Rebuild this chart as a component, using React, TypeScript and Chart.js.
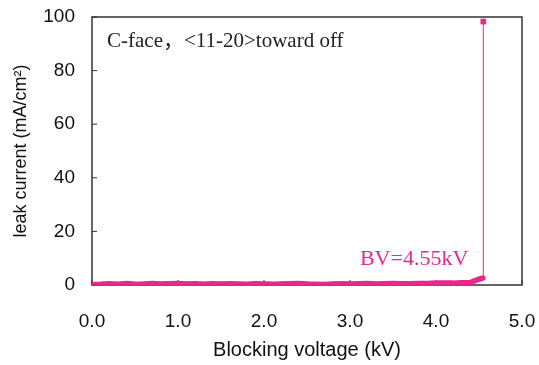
import React, { useEffect, useRef } from "react";
import { Chart, registerables } from "chart.js";

Chart.register(...registerables);

const voltage = [
  0.0, 0.1, 0.2, 0.3, 0.4, 0.5, 0.6, 0.7, 0.8, 0.9, 1.0, 1.1, 1.2, 1.3, 1.4, 1.5,
  1.6, 1.7, 1.8, 1.9, 2.0, 2.1, 2.2, 2.3, 2.4, 2.5, 2.6, 2.7, 2.8, 2.9, 3.0, 3.1,
  3.2, 3.3, 3.4, 3.5, 3.6, 3.7, 3.8, 3.9, 4.0, 4.1, 4.2, 4.3, 4.4, 4.45, 4.5, 4.55, 4.55,
];
const leakCurrent = [
  0.2, 0.3, 0.5, 0.3, 0.6, 0.3, 0.4, 0.6, 0.4, 0.5, 0.6, 0.4, 0.5, 0.3, 0.5, 0.4,
  0.5, 0.4, 0.3, 0.5, 0.4, 0.3, 0.4, 0.5, 0.6, 0.4, 0.3, 0.2, 0.4, 0.5, 0.4, 0.5,
  0.6, 0.4, 0.5, 0.6, 0.5, 0.5, 0.6, 0.6, 0.7, 0.7, 0.7, 0.8, 0.9, 1.6, 2.2, 2.6, 98.3,
];
const xTicks = [0, 1, 2, 3, 4, 5];
const yTicks = [0, 20, 40, 60, 80, 100];
const noteText = "C-face，<11-20>toward off";
const bvText = "BV=4.55kV";

const PINK = "#E8288C";

export default function App() {
  const ref = useRef<HTMLCanvasElement>(null);
  useEffect(() => {
    const ctx = ref.current!.getContext("2d")!;
    const framePlugin = {
      id: "frame",
      beforeDatasetsDraw(chart: any) {
        const { ctx, chartArea: a, scales } = chart;
        ctx.save();
        ctx.strokeStyle = "#333";
        ctx.lineWidth = 1.5;
        ctx.strokeRect(a.left, a.top, a.right - a.left, a.bottom - a.top);
        ctx.lineWidth = 1;
        ctx.beginPath();
        for (const v of xTicks) {
          const x = scales.x.getPixelForValue(v);
          ctx.moveTo(x, a.bottom);
          ctx.lineTo(x, a.bottom - 5);
        }
        for (const v of yTicks) {
          const y = scales.y.getPixelForValue(v);
          ctx.moveTo(a.left, y);
          ctx.lineTo(a.left + 5, y);
        }
        ctx.stroke();
        ctx.restore();
      },
      afterDraw(chart: any) {
        const { ctx, chartArea: a, scales } = chart;
        ctx.save();
        ctx.fillStyle = "#222";
        ctx.font = "21px 'Liberation Serif', 'Noto Sans CJK SC'";
        ctx.textBaseline = "middle";
        ctx.textAlign = "left";
        ctx.fillText(noteText, a.left + 15, a.top + 24);
        ctx.fillStyle = PINK;
        ctx.font = "22px 'Liberation Serif'";
        ctx.textAlign = "right";
        ctx.fillText(bvText, scales.x.getPixelForValue(4.55) - 15, scales.y.getPixelForValue(9.5));
        ctx.restore();
      },
    };
    const chart = new Chart(ctx, {
      type: "line",
      data: {
        datasets: [
          {
            data: voltage.map((x, i) => ({ x, y: leakCurrent[i] })),
            borderColor: PINK,
            backgroundColor: PINK,
            borderWidth: 5.5,
            pointStyle: "rect",
            pointRadius: (c: any) => (c.parsed && c.parsed.y > 50 ? 4 : 3),
            pointBorderWidth: 0,
            tension: 0,
            segment: {
              borderWidth: (c: any) => (c.p1.parsed.y > 50 ? 1 : 5.5),
            },
          },
        ],
      },
      plugins: [framePlugin],
      options: {
        animation: false,
        responsive: false,
        layout: { padding: { top: 17, right: 17, left: 0, bottom: 0 } },
        plugins: { legend: { display: false }, tooltip: { enabled: false } },
        scales: {
          x: {
            type: "linear",
            min: 0,
            max: 5,
            afterFit: (s: any) => {
              s.height = 80;
              s.paddingLeft = 0;
              s.paddingRight = 0;
            },
            afterBuildTicks: (s: any) => { s.ticks = xTicks.map((v) => ({ value: v })); },
            grid: { drawOnChartArea: false, drawTicks: false },
            border: { display: false },
            ticks: {
              color: "#111",
              font: { family: "'Liberation Sans', Arial", size: 19 },
              padding: 25,
              maxRotation: 0,
              callback: (v: any) => Number(v).toFixed(1),
            },
            title: {
              display: true,
              text: "Blocking voltage (kV)",
              color: "#111",
              font: { family: "'Liberation Sans', Arial", size: 20 },
              padding: { top: 0, bottom: 3 },
            },
          },
          y: {
            min: 0,
            max: 100,
            afterFit: (s: any) => {
              s.width = 92;
              s.paddingTop = 0;
              s.paddingBottom = 0;
            },
            afterBuildTicks: (s: any) => { s.ticks = yTicks.map((v) => ({ value: v })); },
            grid: { drawOnChartArea: false, drawTicks: false },
            border: { display: false },
            ticks: {
              color: "#111",
              font: { family: "'Liberation Sans', Arial", size: 19 },
              padding: 17,
            },
            title: {
              display: true,
              text: "leak current (mA/cm²)",
              color: "#111",
              font: { family: "'Liberation Sans', Arial", size: 18 },
              padding: { top: 10, bottom: 0 },
            },
          },
        },
      },
    } as any);
    return () => chart.destroy();
  }, []);
  return (
    <div style={{ position: "fixed", left: 0, top: 0, width: 539, height: 365, background: "#fff" }}>
      <canvas ref={ref} width={539} height={365} style={{ width: 539, height: 365 }} />
    </div>
  );
}
